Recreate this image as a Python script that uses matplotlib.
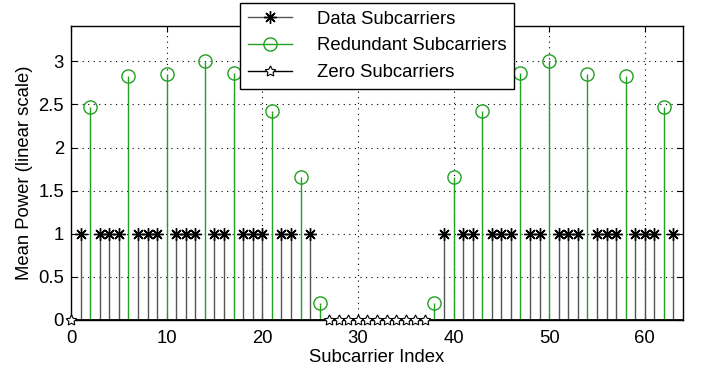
import matplotlib
matplotlib.use("Agg")
import matplotlib.pyplot as plt
import numpy as np
from matplotlib.lines import Line2D
from matplotlib.legend_handler import HandlerLine2D

plt.rcParams['font.family'] = ['Liberation Sans', 'DejaVu Sans']

data_idx = [1, 3, 4, 5, 7, 8, 9, 11, 12, 13, 15, 16, 18, 19, 20, 22, 23, 25,
            39, 41, 42, 44, 45, 46, 48, 49, 51, 52, 53, 55, 56, 57, 59, 60, 61, 63]
data_val = [1.0] * len(data_idx)

red_idx = [2, 6, 10, 14, 17, 21, 24, 26, 38, 40, 43, 47, 50, 54, 58, 62]
red_val = [2.47, 2.83, 2.85, 3.0, 2.86, 2.42, 1.66, 0.20,
           0.20, 1.66, 2.42, 2.86, 3.0, 2.85, 2.83, 2.47]

zero_idx = [0, 27, 28, 29, 30, 31, 32, 33, 34, 35, 36, 37]
zero_val = [0.0] * len(zero_idx)

xticks = [0, 10, 20, 30, 40, 50, 60]
yticks = [0, 0.5, 1, 1.5, 2, 2.5, 3]
ytick_labels = ['0', '0.5', '1', '1.5', '2', '2.5', '3']

green = '#22a022'
gray = '#555555'
FS = 13.3
AST = (8, 2, 0)
STAR = (5, 1, 0)

fig = plt.figure(figsize=(7.01, 3.70), dpi=100)
ax = fig.add_axes([71/701, 1 - 320/370, (683-71)/701, (320-26)/370])

ml, sl, bl = ax.stem(data_idx, data_val, linefmt='-', markerfmt='*', basefmt=' ')
plt.setp(sl, color=gray, linewidth=1.0)
plt.setp(ml, color='black', marker=AST, markersize=9, markeredgewidth=1.0)

ml2, sl2, bl2 = ax.stem(red_idx, red_val, linefmt='-', markerfmt='o', basefmt=' ')
plt.setp(sl2, color=green, linewidth=1.0)
plt.setp(ml2, color=green, markerfacecolor='none', markeredgecolor=green,
         markersize=9.5, markeredgewidth=1.0)

ax.axhline(0, color='black', linewidth=2.0, zorder=2.5)

ml3, sl3, bl3 = ax.stem(zero_idx, zero_val, linefmt='-', markerfmt='*', basefmt=' ')
plt.setp(sl3, color='black', linewidth=1.0)
plt.setp(ml3, color='black', marker=STAR, markerfacecolor='white', markeredgecolor='black',
         markersize=8, markeredgewidth=0.8, clip_on=False, zorder=3)

ax.set_xlim(0, 64)
ax.set_ylim(0, 3.41)
ax.set_xticks(xticks)
ax.set_yticks(yticks)
ax.set_yticklabels(ytick_labels)
ax.tick_params(direction='in', labelsize=FS, length=4, top=True, right=True)
ax.tick_params(axis='x', pad=7)
ax.tick_params(axis='y', pad=5)
ax.grid(True, linestyle=(0, (1, 4)), color='black', linewidth=0.8)
ax.set_axisbelow(True)
for s in ax.spines.values():
    s.set_linewidth(1.0)

ax.set_xlabel('Subcarrier Index', fontsize=FS, labelpad=2)
ax.set_ylabel('Mean Power (linear scale)', fontsize=FS, labelpad=4)


class EndMarker(HandlerLine2D):
    def get_xdata(self, legend, xdescent, ydescent, width, height, fontsize):
        xdata = np.array([-xdescent, -xdescent + width])
        return xdata, np.array([-xdescent + width])


h1 = Line2D([], [], color=gray, marker=AST, markeredgecolor='black', markersize=9,
            markeredgewidth=1.0, linewidth=1.0)
h2 = Line2D([], [], color=green, marker='o', markerfacecolor='none', markeredgecolor=green,
            markersize=9.5, linewidth=1.0)
h3 = Line2D([], [], color='black', marker=STAR, markerfacecolor='white', markeredgecolor='black',
            markersize=8, markeredgewidth=0.8, linewidth=1.0)
leg = fig.legend([h1, h2, h3], ['Data Subcarriers', 'Redundant Subcarriers', 'Zero Subcarriers'],
                 loc='upper left', bbox_to_anchor=(240/701, 1 - 3/370), fontsize=FS,
                 frameon=True, fancybox=False, edgecolor='black', framealpha=1,
                 handlelength=2.4, handletextpad=1.35, borderpad=0.42, labelspacing=0.52,
                 borderaxespad=0,
                 handler_map={h1: EndMarker(), h2: EndMarker(), h3: EndMarker()})
leg.get_frame().set_linewidth(1.0)
leg.set_zorder(10)

fig.savefig('out.png', dpi=100)
